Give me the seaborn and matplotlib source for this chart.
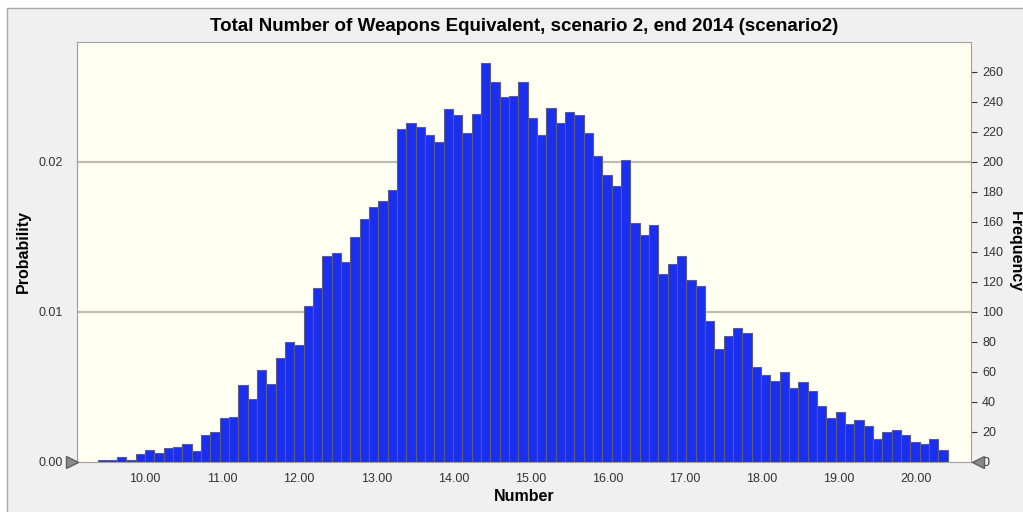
import numpy as np
import pandas as pd
import matplotlib
matplotlib.use("Agg")
import matplotlib.pyplot as plt
from matplotlib.patches import Rectangle
import seaborn as sns

bin_lo = 9.394
bin_hi = 20.415
n_sims = 10000
counts = [
    1, 1, 3, 1, 5, 8, 6, 9, 10, 12, 7, 18, 20, 29, 30, 51, 42,
    61, 52, 69, 80, 78, 104, 116, 137, 139, 133, 150, 162, 170, 174, 181,
    222, 226, 223, 218, 213, 235, 231, 219, 232, 266, 253, 243, 244, 253, 229, 218, 236,
    226, 233, 231, 219, 204, 191, 184, 201, 159, 151, 158, 125, 132, 137, 121, 117,
    94, 75, 84, 89, 86, 63, 58, 54, 60, 49, 53, 47, 37, 29, 33, 25,
    28, 24, 15, 20, 21, 18, 13, 12, 15, 8,
]
x_ticks = [10, 11, 12, 13, 14, 15, 16, 17, 18, 19, 20]
freq_ticks = list(range(0, 261, 20))
prob_ticks = [0.0, 0.01, 0.02]
grid_levels = [100, 200]

title = "Total Number of Weapons Equivalent, scenario 2, end 2014 (scenario2)"

edges = np.linspace(bin_lo, bin_hi, len(counts) + 1)
centers = (edges[:-1] + edges[1:]) / 2
df = pd.DataFrame({"Number": centers, "Frequency": counts})

sns.set_style("white")
plt.rcParams["font.family"] = ["Liberation Sans", "DejaVu Sans"]

W, H = 1023, 512
fig = plt.figure(figsize=(W / 100, H / 100), dpi=100)
fig.patch.set_facecolor("white")
fig.patches.append(Rectangle((7 / W, -0.01), 1.0, (H - 8) / H + 0.01,
                             transform=fig.transFigure, facecolor="#f0f0f0",
                             edgecolor="#a8a8a8", linewidth=1.0, zorder=-10))

ax = fig.add_axes([77 / W, (H - 461.5) / H, 894 / W, 419.5 / H])
ax.set_facecolor("#fffff2")

for g in grid_levels:
    ax.axhline(g, color="#bdbdb0", linewidth=1.6, zorder=0)

sns.histplot(data=df, x="Number", weights="Frequency", bins=edges.tolist(),
             ax=ax, color="#1b2ff0", edgecolor="#5c5c80", linewidth=0.8,
             alpha=1.0, zorder=2)

ax.set_xlim(9.118, 20.717)
ax.set_ylim(0, 280)

# frequência à direita
ax.yaxis.tick_right()
ax.yaxis.set_label_position("right")
ax.set_yticks(freq_ticks)
ax.set_yticklabels([str(v) for v in freq_ticks])
ax.set_ylabel("Frequency", rotation=270, labelpad=4, fontsize=11.5,
              fontweight="bold", color="black")
ax.yaxis.set_label_coords(1.058, 0.5)

ax.set_xticks(x_ticks)
ax.set_xticklabels([f"{v:.2f}" for v in x_ticks])
ax.set_xlabel("Number", fontsize=11.5, fontweight="bold", labelpad=3,
              color="black")

ax.tick_params(axis="both", labelsize=9, colors="#333333", length=4,
               width=0.8, direction="out", pad=6)
ax.tick_params(axis="y", pad=4)
ax.tick_params(axis="x", colors="#333333", pad=4)
for t in ax.get_xticklines() + ax.get_yticklines():
    t.set_color("#909090")

# probabilidade à esquerda
sec = ax.secondary_yaxis("left", functions=(lambda f: f / n_sims,
                                             lambda p: p * n_sims))
sec.set_yticks(prob_ticks)
sec.set_yticklabels([f"{v:.2f}" for v in prob_ticks])
sec.tick_params(labelsize=9, colors="#333333", length=0, pad=10)
sec.set_ylabel("Probability", fontsize=11.5, fontweight="bold", labelpad=6,
               color="black")
sec.spines["left"].set_color("#a0a0a0")

for s in ax.spines.values():
    s.set_color("#a0a0a0")
    s.set_linewidth(0.8)

ax.set_title(title, fontsize=13.5, fontweight="bold", pad=8, color="black")

# marcadores de limite (triângulos cinza)
tr = ax.get_yaxis_transform()
ax.plot([-0.0056], [0], marker=">", markersize=9, color="#8a8a8a",
        markeredgecolor="#606060", transform=tr, clip_on=False, zorder=5)
ax.plot([1.0078], [0], marker="<", markersize=9, color="#8a8a8a",
        markeredgecolor="#606060", transform=tr, clip_on=False, zorder=5)

fig.savefig("out.png", dpi=100)
